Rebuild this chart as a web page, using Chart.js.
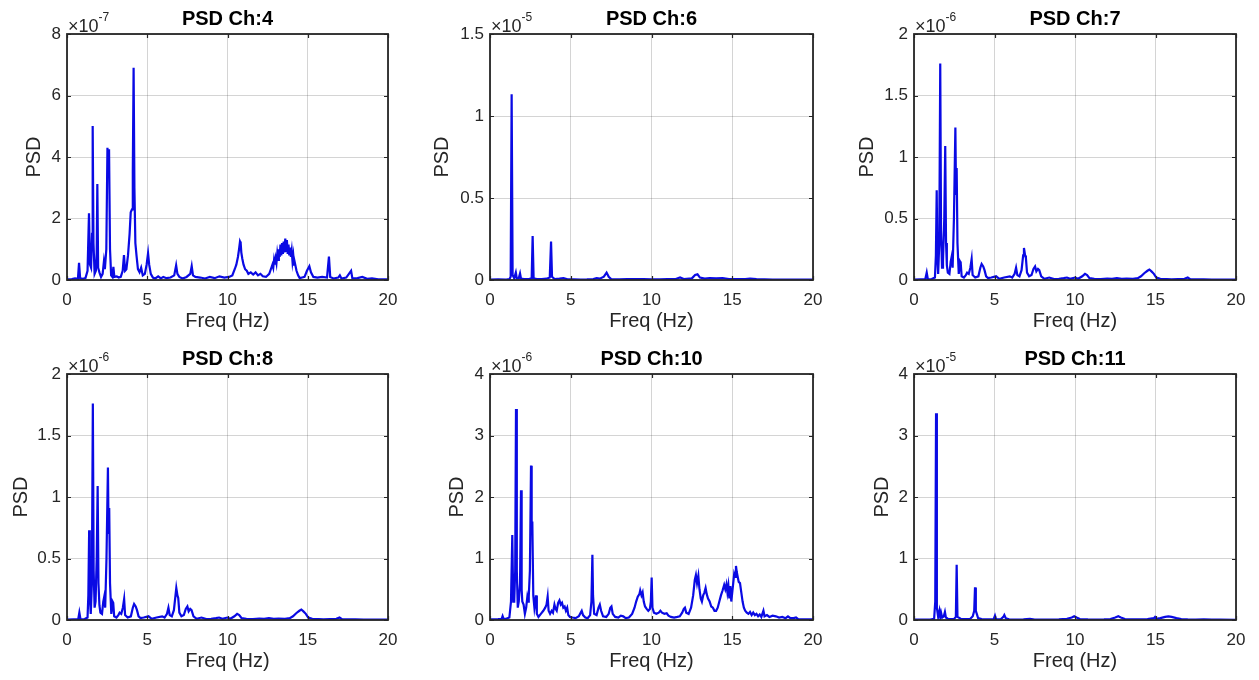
<!DOCTYPE html>
<html>
<head>
<meta charset="utf-8">
<script src="https://cdn.jsdelivr.net/npm/chart.js@4.4.1/dist/chart.umd.min.js"></script>
<style>
  html, body { margin: 0; padding: 0; background: #fff; }
  #wrap { position: relative; width: 1259px; height: 680px; overflow: hidden; background: #fff; }
  #wrap canvas { position: absolute; }
</style>
</head>
<body>
<div id="wrap"></div>
<script>
// ---------------- DATA (frequency Hz, PSD mantissa) ----------------
const titles = ['PSD Ch:4', 'PSD Ch:6', 'PSD Ch:7', 'PSD Ch:8', 'PSD Ch:10', 'PSD Ch:11'];
const exponents = ['-7', '-5', '-6', '-6', '-6', '-5'];
const xTicks = [0, 5, 10, 15, 20];
const yTicksCh4 = [0, 2, 4, 6, 8];
const yTicksCh6 = [0, 0.5, 1, 1.5];
const yTicksCh7 = [0, 0.5, 1, 1.5, 2];
const yTicksCh8 = [0, 0.5, 1, 1.5, 2];
const yTicksCh10 = [0, 1, 2, 3, 4];
const yTicksCh11 = [0, 1, 2, 3, 4];

const ch4 = [[0,0.02],[0.3,0.03],[0.5,0.05],[0.68,0.04],[0.75,0.56],[0.82,0.05],[1.0,0.04],[1.15,0.06],[1.28,0.3],[1.37,2.17],[1.43,0.5],[1.5,0.4],[1.56,1.5],[1.6,5.01],[1.65,1.2],[1.72,0.2],[1.8,0.3],[1.85,0.9],[1.89,3.12],[1.94,0.4],[2.02,0.25],[2.12,0.1],[2.22,0.2],[2.3,0.6],[2.36,0.35],[2.45,1.0],[2.52,4.3],[2.57,3.6],[2.62,4.25],[2.68,1.0],[2.75,0.15],[2.83,0.1],[2.89,0.43],[2.95,0.1],[3.1,0.12],[3.22,0.08],[3.35,0.1],[3.47,0.3],[3.55,0.81],[3.62,0.3],[3.7,0.35],[3.8,0.8],[3.9,1.5],[3.97,2.2],[4.05,2.3],[4.1,3.5],[4.15,6.9],[4.2,3.0],[4.26,1.2],[4.33,0.8],[4.42,0.35],[4.52,0.25],[4.62,0.4],[4.72,0.15],[4.85,0.2],[4.96,0.5],[5.05,0.87],[5.12,0.5],[5.22,0.2],[5.35,0.08],[5.5,0.05],[5.68,0.12],[5.85,0.05],[6.0,0.1],[6.2,0.06],[6.45,0.08],[6.68,0.15],[6.8,0.48],[6.88,0.2],[7.0,0.1],[7.2,0.05],[7.45,0.1],[7.68,0.2],[7.77,0.45],[7.85,0.15],[8.0,0.1],[8.3,0.08],[8.6,0.05],[8.9,0.1],[9.2,0.06],[9.5,0.12],[9.8,0.08],[10.1,0.1],[10.3,0.15],[10.45,0.35],[10.55,0.5],[10.65,0.75],[10.72,1.0],[10.78,1.25],[10.82,1.2],[10.86,0.9],[10.92,0.7],[11.0,0.5],[11.1,0.35],[11.2,0.3],[11.3,0.2],[11.45,0.25],[11.6,0.18],[11.75,0.25],[11.9,0.15],[12.05,0.2],[12.2,0.12],[12.4,0.1],[12.6,0.2],[12.7,0.35],[12.8,0.5],[12.85,0.4],[12.9,0.65],[12.95,0.5],[13.0,0.7],[13.05,0.55],[13.1,0.85],[13.15,0.65],[13.2,1.0],[13.25,0.75],[13.3,1.15],[13.35,0.8],[13.4,1.2],[13.45,0.85],[13.5,1.25],[13.55,0.9],[13.6,1.35],[13.65,0.95],[13.7,1.3],[13.75,0.85],[13.8,1.15],[13.85,0.8],[13.9,1.05],[13.95,0.75],[14.0,0.95],[14.05,0.6],[14.1,0.8],[14.15,0.5],[14.2,0.55],[14.3,0.3],[14.4,0.15],[14.5,0.06],[14.65,0.08],[14.8,0.1],[14.95,0.3],[15.1,0.45],[15.2,0.25],[15.35,0.1],[15.6,0.08],[15.9,0.1],[16.2,0.08],[16.32,0.76],[16.4,0.1],[16.6,0.05],[16.9,0.08],[17.0,0.15],[17.1,0.05],[17.4,0.08],[17.7,0.3],[17.78,0.05],[18.1,0.06],[18.4,0.1],[18.7,0.04],[19.0,0.05],[19.4,0.02],[20,0.02]];

const ch6 = [[0,0.003],[0.5,0.004],[1.0,0.003],[1.2,0.005],[1.28,0.02],[1.34,1.132],[1.4,0.03],[1.5,0.01],[1.6,0.045],[1.66,0.01],[1.78,0.01],[1.86,0.04],[1.92,0.008],[2.1,0.005],[2.4,0.006],[2.58,0.01],[2.64,0.268],[2.7,0.01],[2.9,0.006],[3.2,0.005],[3.5,0.008],[3.7,0.015],[3.78,0.234],[3.84,0.02],[4.0,0.006],[4.3,0.008],[4.55,0.012],[4.8,0.004],[5.2,0.004],[5.6,0.003],[6.0,0.004],[6.4,0.006],[6.6,0.012],[6.8,0.008],[7.05,0.02],[7.22,0.045],[7.35,0.02],[7.5,0.006],[8.0,0.004],[8.5,0.005],[9.0,0.006],[9.5,0.005],[10.0,0.004],[10.5,0.004],[11.0,0.005],[11.5,0.006],[11.77,0.015],[12.0,0.006],[12.5,0.01],[12.7,0.03],[12.85,0.035],[13.0,0.015],[13.3,0.008],[13.6,0.012],[14.0,0.01],[14.4,0.012],[14.8,0.006],[15.3,0.005],[15.8,0.006],[16.1,0.008],[16.5,0.005],[17.0,0.004],[17.5,0.003],[18.0,0.003],[19.0,0.002],[20,0.002]];

const ch7 = [[0,0.004],[0.4,0.005],[0.7,0.006],[0.79,0.06],[0.86,0.006],[1.1,0.008],[1.3,0.02],[1.36,0.2],[1.41,0.73],[1.45,0.2],[1.5,0.05],[1.57,0.3],[1.63,1.76],[1.68,0.4],[1.74,0.1],[1.8,0.15],[1.88,0.5],[1.94,1.09],[1.99,0.3],[2.04,0.12],[2.1,0.06],[2.2,0.05],[2.28,0.15],[2.34,0.19],[2.4,0.1],[2.48,0.5],[2.57,1.24],[2.61,0.7],[2.65,0.91],[2.7,0.3],[2.78,0.05],[2.86,0.15],[2.9,0.14],[2.96,0.03],[3.1,0.02],[3.22,0.04],[3.3,0.06],[3.4,0.05],[3.5,0.1],[3.58,0.17],[3.64,0.04],[3.8,0.02],[4.0,0.03],[4.12,0.1],[4.2,0.13],[4.3,0.11],[4.38,0.08],[4.48,0.03],[4.6,0.015],[4.8,0.02],[5.1,0.03],[5.3,0.01],[5.6,0.02],[5.95,0.03],[6.1,0.02],[6.25,0.05],[6.34,0.1],[6.42,0.04],[6.55,0.03],[6.68,0.08],[6.78,0.2],[6.83,0.26],[6.9,0.2],[6.95,0.18],[7.02,0.06],[7.15,0.03],[7.3,0.04],[7.42,0.09],[7.52,0.11],[7.6,0.07],[7.7,0.09],[7.78,0.08],[7.9,0.03],[8.1,0.01],[8.4,0.02],[8.7,0.008],[9.0,0.01],[9.3,0.015],[9.5,0.02],[9.7,0.01],[10.0,0.02],[10.2,0.01],[10.45,0.03],[10.62,0.05],[10.75,0.04],[10.9,0.015],[11.2,0.01],[11.6,0.008],[12.0,0.012],[12.3,0.01],[12.6,0.015],[12.9,0.01],[13.2,0.012],[13.6,0.01],[13.9,0.015],[14.1,0.03],[14.3,0.055],[14.5,0.075],[14.62,0.085],[14.75,0.07],[14.9,0.05],[15.05,0.02],[15.3,0.01],[15.7,0.008],[16.0,0.006],[16.4,0.008],[16.8,0.01],[17.0,0.02],[17.15,0.006],[17.5,0.005],[18.0,0.006],[18.5,0.004],[19.0,0.004],[20,0.003]];

const ch8 = [[0,0.004],[0.4,0.005],[0.7,0.006],[0.77,0.06],[0.84,0.006],[1.1,0.008],[1.28,0.02],[1.33,0.2],[1.38,0.73],[1.42,0.2],[1.48,0.05],[1.55,0.3],[1.61,1.76],[1.66,0.4],[1.72,0.1],[1.78,0.15],[1.85,0.5],[1.91,1.09],[1.96,0.3],[2.02,0.12],[2.08,0.06],[2.18,0.05],[2.26,0.15],[2.32,0.19],[2.38,0.1],[2.46,0.5],[2.55,1.24],[2.59,0.7],[2.63,0.91],[2.68,0.3],[2.76,0.05],[2.84,0.15],[2.88,0.14],[2.94,0.03],[3.08,0.02],[3.2,0.04],[3.28,0.06],[3.38,0.05],[3.48,0.1],[3.56,0.17],[3.62,0.04],[3.78,0.02],[3.98,0.03],[4.1,0.1],[4.18,0.13],[4.28,0.11],[4.36,0.08],[4.46,0.03],[4.58,0.015],[4.78,0.02],[5.08,0.03],[5.28,0.01],[5.58,0.02],[5.93,0.03],[6.08,0.02],[6.23,0.05],[6.32,0.1],[6.4,0.04],[6.53,0.03],[6.66,0.08],[6.76,0.2],[6.81,0.26],[6.88,0.2],[6.93,0.18],[7.0,0.06],[7.13,0.03],[7.28,0.04],[7.4,0.09],[7.5,0.11],[7.58,0.07],[7.68,0.09],[7.76,0.08],[7.88,0.03],[8.08,0.01],[8.38,0.02],[8.68,0.008],[8.98,0.01],[9.28,0.015],[9.48,0.02],[9.68,0.01],[9.98,0.02],[10.18,0.01],[10.43,0.03],[10.6,0.05],[10.73,0.04],[10.88,0.015],[11.18,0.01],[11.58,0.008],[11.98,0.012],[12.28,0.01],[12.58,0.015],[12.88,0.01],[13.18,0.012],[13.58,0.01],[13.88,0.015],[14.08,0.03],[14.28,0.055],[14.48,0.075],[14.6,0.085],[14.73,0.07],[14.88,0.05],[15.03,0.02],[15.28,0.01],[15.68,0.008],[15.98,0.006],[16.38,0.008],[16.78,0.01],[16.98,0.02],[17.13,0.006],[17.48,0.005],[17.98,0.006],[18.48,0.004],[18.98,0.004],[20,0.003]];

const ch10 = [[0,0.01],[0.5,0.015],[0.72,0.02],[0.78,0.065],[0.84,0.02],[1.0,0.02],[1.2,0.04],[1.3,0.3],[1.38,1.38],[1.44,0.3],[1.5,0.3],[1.56,0.8],[1.61,3.43],[1.66,0.8],[1.72,0.2],[1.78,0.3],[1.86,0.6],[1.92,2.11],[1.96,0.5],[2.0,0.3],[2.08,0.25],[2.16,0.1],[2.24,0.2],[2.31,0.37],[2.36,0.3],[2.4,0.38],[2.47,0.8],[2.54,2.51],[2.58,1.4],[2.62,1.6],[2.68,0.4],[2.75,0.2],[2.8,0.3],[2.85,0.4],[2.9,0.1],[3.0,0.05],[3.15,0.1],[3.3,0.15],[3.42,0.2],[3.5,0.25],[3.57,0.38],[3.63,0.15],[3.72,0.1],[3.82,0.15],[3.9,0.12],[3.99,0.25],[4.06,0.18],[4.13,0.15],[4.22,0.28],[4.3,0.32],[4.38,0.25],[4.46,0.28],[4.54,0.2],[4.62,0.22],[4.7,0.15],[4.78,0.2],[4.85,0.08],[4.95,0.05],[5.1,0.04],[5.3,0.03],[5.5,0.06],[5.62,0.12],[5.68,0.15],[5.76,0.08],[5.9,0.04],[6.05,0.03],[6.2,0.08],[6.28,0.3],[6.34,1.06],[6.38,0.4],[6.45,0.1],[6.6,0.08],[6.72,0.2],[6.8,0.25],[6.88,0.15],[7.0,0.06],[7.2,0.05],[7.35,0.1],[7.45,0.2],[7.52,0.22],[7.6,0.1],[7.75,0.05],[7.95,0.04],[8.1,0.07],[8.25,0.06],[8.4,0.03],[8.6,0.04],[8.8,0.1],[8.95,0.2],[9.05,0.3],[9.15,0.38],[9.25,0.42],[9.3,0.48],[9.38,0.4],[9.45,0.45],[9.52,0.3],[9.6,0.22],[9.7,0.18],[9.8,0.15],[9.9,0.18],[9.96,0.3],[10.01,0.69],[10.06,0.2],[10.15,0.12],[10.3,0.1],[10.45,0.12],[10.55,0.15],[10.65,0.12],[10.8,0.1],[10.94,0.11],[11.05,0.07],[11.2,0.05],[11.4,0.04],[11.6,0.05],[11.75,0.06],[11.9,0.12],[12.0,0.18],[12.07,0.2],[12.15,0.12],[12.3,0.1],[12.45,0.2],[12.58,0.4],[12.68,0.65],[12.75,0.73],[12.82,0.6],[12.9,0.72],[12.97,0.5],[13.05,0.35],[13.12,0.3],[13.2,0.4],[13.28,0.45],[13.35,0.52],[13.42,0.42],[13.5,0.35],[13.6,0.3],[13.7,0.22],[13.8,0.2],[13.9,0.15],[14.0,0.15],[14.1,0.2],[14.2,0.3],[14.3,0.4],[14.4,0.48],[14.5,0.57],[14.57,0.5],[14.64,0.58],[14.7,0.45],[14.76,0.56],[14.82,0.35],[14.88,0.55],[14.94,0.3],[15.0,0.45],[15.06,0.6],[15.12,0.75],[15.18,0.7],[15.23,0.88],[15.28,0.78],[15.34,0.7],[15.4,0.62],[15.48,0.6],[15.56,0.45],[15.64,0.3],[15.72,0.2],[15.8,0.15],[15.9,0.12],[16.0,0.1],[16.1,0.13],[16.2,0.08],[16.3,0.12],[16.4,0.08],[16.5,0.1],[16.6,0.06],[16.7,0.09],[16.8,0.05],[16.93,0.15],[17.0,0.06],[17.15,0.08],[17.3,0.05],[17.5,0.07],[17.7,0.06],[17.9,0.04],[18.1,0.05],[18.3,0.03],[18.45,0.06],[18.6,0.03],[18.8,0.03],[18.95,0.04],[19.1,0.01],[19.5,0.01],[20,0.01]];

const ch11 = [[0,0.005],[0.5,0.006],[1.0,0.008],[1.25,0.02],[1.32,0.3],[1.37,3.36],[1.42,0.2],[1.5,0.05],[1.58,0.15],[1.63,0.05],[1.68,0.12],[1.75,0.04],[1.85,0.06],[1.92,0.13],[1.98,0.04],[2.1,0.02],[2.3,0.015],[2.5,0.02],[2.6,0.05],[2.65,0.9],[2.7,0.05],[2.9,0.02],[3.2,0.015],[3.5,0.02],[3.65,0.06],[3.74,0.15],[3.79,0.53],[3.84,0.15],[3.9,0.1],[3.98,0.03],[4.2,0.015],[4.6,0.01],[4.95,0.015],[5.03,0.07],[5.1,0.01],[5.4,0.015],[5.55,0.05],[5.61,0.08],[5.7,0.03],[5.9,0.01],[6.3,0.008],[6.8,0.01],[7.2,0.02],[7.5,0.008],[8.0,0.006],[8.5,0.008],[9.0,0.01],[9.5,0.02],[9.8,0.04],[9.95,0.06],[10.1,0.04],[10.3,0.015],[10.8,0.01],[11.3,0.008],[11.8,0.01],[12.2,0.015],[12.5,0.04],[12.69,0.06],[12.85,0.04],[13.1,0.015],[13.5,0.01],[14.0,0.01],[14.5,0.015],[14.9,0.03],[14.97,0.05],[15.05,0.02],[15.3,0.03],[15.6,0.05],[15.8,0.06],[16.0,0.05],[16.3,0.03],[16.6,0.015],[17.0,0.01],[17.5,0.008],[18.0,0.01],[18.5,0.006],[19.0,0.005],[20,0.004]];

// ---------------- LAYOUT ----------------
const FONT = "'Liberation Sans', Arial, Helvetica, sans-serif";
const TXT = '#262626';
const panels = [
  { series: ch4,  yTicks: yTicksCh4,  left: 0,   top: 0,   w: 420, plotL: 67, plotR: 388, labelX: 34.5 },
  { series: ch6,  yTicks: yTicksCh6,  left: 420, top: 0,   w: 420, plotL: 70, plotR: 393, labelX: 22.5 },
  { series: ch7,  yTicks: yTicksCh7,  left: 840, top: 0,   w: 419, plotL: 74, plotR: 396, labelX: 27.5 },
  { series: ch8,  yTicks: yTicksCh8,  left: 0,   top: 340, w: 420, plotL: 67, plotR: 388, labelX: 21 },
  { series: ch10, yTicks: yTicksCh10, left: 420, top: 340, w: 420, plotL: 70, plotR: 393, labelX: 37.5 },
  { series: ch11, yTicks: yTicksCh11, left: 840, top: 340, w: 419, plotL: 74, plotR: 396, labelX: 42.5 }
];
const H = 340;
const LABEL_SIZE = 20;
const TICK_SIZE = 17;

const matlabFrame = {
  id: 'matlabFrame',
  afterDatasetsDraw(chart, args, opts) {
    const { ctx, chartArea: a, scales: { x, y } } = chart;
    ctx.save();
    ctx.strokeStyle = TXT;
    ctx.lineWidth = 1.2;
    const tl = 4;
    ctx.beginPath();
    x.ticks.forEach(t => {
      const px = Math.round(x.getPixelForValue(t.value)) + 0.5;
      ctx.moveTo(px, a.bottom); ctx.lineTo(px, a.bottom - tl);
      ctx.moveTo(px, a.top); ctx.lineTo(px, a.top + tl);
    });
    y.ticks.forEach(t => {
      const py = Math.round(y.getPixelForValue(t.value)) + 0.5;
      ctx.moveTo(a.left, py); ctx.lineTo(a.left + tl, py);
      ctx.moveTo(a.right, py); ctx.lineTo(a.right - tl, py);
    });
    ctx.stroke();
    ctx.lineWidth = 1.8;
    ctx.strokeRect(a.left, a.top, a.right - a.left, a.bottom - a.top);
    // exponent label
    ctx.fillStyle = TXT;
    ctx.textAlign = 'left';
    ctx.textBaseline = 'alphabetic';
    ctx.font = '18px ' + FONT;
    const base = '\u00d710';
    ctx.fillText(base, a.left + 1, a.top - 2);
    const w = ctx.measureText(base).width;
    ctx.font = '12px ' + FONT;
    ctx.fillText(opts.exp, a.left + 1 + w, a.top - 13);
    ctx.restore();
  }
};

const wrap = document.getElementById('wrap');
panels.forEach((p, i) => {
  const c = document.createElement('canvas');
  c.width = p.w; c.height = H;
  c.style.left = p.left + 'px'; c.style.top = p.top + 'px';
  c.style.width = p.w + 'px'; c.style.height = H + 'px';
  wrap.appendChild(c);
  const padL = p.labelX - LABEL_SIZE * 1.2 / 2;
  const yMax = p.yTicks[p.yTicks.length - 1];
  new Chart(c, {
    type: 'line',
    data: {
      datasets: [{
        data: p.series.map(d => ({ x: d[0], y: d[1] })),
        borderColor: 'rgb(10,10,228)',
        borderWidth: 2.2,
        pointRadius: 0,
        tension: 0,
        fill: false
      }]
    },
    plugins: [matlabFrame],
    options: {
      responsive: false,
      devicePixelRatio: 1,
      animation: false,
      events: [],
      layout: { padding: { left: padL, right: p.w - p.plotR, top: 0, bottom: 0 } },
      plugins: {
        legend: { display: false },
        tooltip: { enabled: false },
        title: {
          display: true, text: titles[i], fullSize: false, color: '#000',
          font: { family: FONT, size: 20, weight: 'bold' },
          padding: { top: 7, bottom: 3 }
        },
        matlabFrame: { exp: exponents[i] }
      },
      scales: {
        x: {
          type: 'linear', min: xTicks[0], max: xTicks[xTicks.length - 1],
          afterBuildTicks: s => { s.ticks = xTicks.map(v => ({ value: v })); },
          afterFit: s => { s.height = 60; },
          grid: { color: 'rgba(38,38,38,0.2)', lineWidth: 1, drawTicks: false },
          border: { display: false },
          ticks: { color: TXT, font: { family: FONT, size: TICK_SIZE }, padding: 10, maxRotation: 0, autoSkip: false },
          title: { display: true, text: 'Freq (Hz)', color: TXT, font: { family: FONT, size: LABEL_SIZE }, padding: { top: 0, bottom: 7 } }
        },
        y: {
          type: 'linear', min: p.yTicks[0], max: yMax,
          afterBuildTicks: s => { s.ticks = p.yTicks.map(v => ({ value: v })); },
          afterFit: s => { s.width = p.plotL - padL; },
          grid: { color: 'rgba(38,38,38,0.2)', lineWidth: 1, drawTicks: false },
          border: { display: false },
          ticks: { color: TXT, font: { family: FONT, size: TICK_SIZE }, padding: 6, autoSkip: false,
                   callback: v => String(Math.round(v * 100) / 100) },
          title: { display: true, text: 'PSD', color: TXT, font: { family: FONT, size: LABEL_SIZE }, padding: { top: 0, bottom: 0 } }
        }
      }
    }
  });
});
</script>
</body>
</html>
